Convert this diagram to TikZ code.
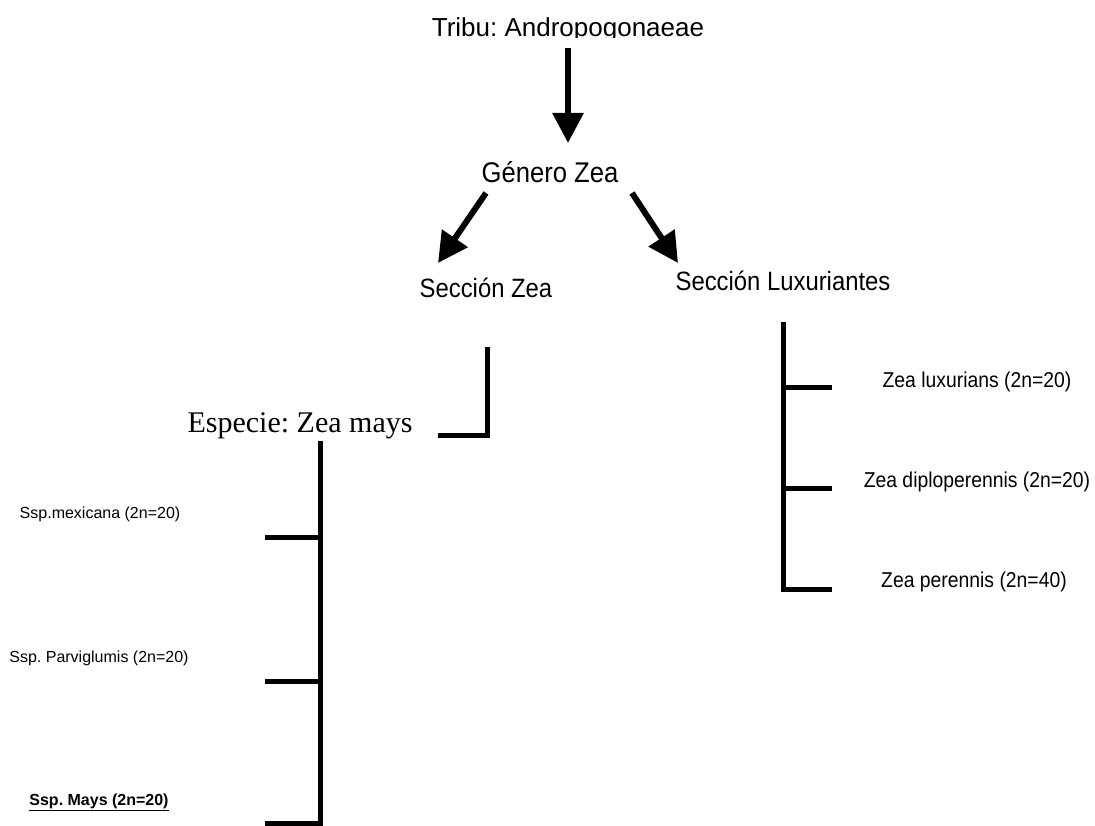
\documentclass[tikz,border=0pt]{standalone}
\usepackage{fontspec}
\setmainfont{Liberation Sans}
\newfontfamily\estrecha[FakeStretch=0.9]{Liberation Sans}
\newfontfamily\romana{Liberation Serif}
\usetikzlibrary{arrows.meta}
\def\flecha{\draw[line width=6pt,-{Triangle[width=30pt,length=30pt]}]}
\def\rama{\draw[line width=5pt]}
\def\tam#1{\fontsize{#1}{#1}\selectfont}
\frenchspacing

\begin{document}
\begin{tikzpicture}[x=1pt,y=-1pt,every node/.style={anchor=base,inner sep=0pt}]
                \useasboundingbox (0,0) rectangle (1095,826);
                \begin{scope}
                  \clip (0,0) rectangle (1095,38);
                  \node[font=\tam{26}] (tribu) at (568,37) {Tribu: Andropogonaeae};
                \end{scope}
                \node[font=\estrecha\tam{28.5}] (genero) at (550,183) {Género Zea};
                \node[font=\estrecha\tam{26.5}] (seczea) at (486,298) {Sección Zea};
                \node[font=\estrecha\tam{26.5}] (seclux) at (783,291) {Sección Luxuriantes};
                \node[font=\romana\tam{30}] (especie) at (300,432) {Especie: Zea mays};
                % subespecies
                \node[font=\tam{16}] (mexicana) at (100,518) {Ssp.mexicana (2n=20)};
                \node[font=\tam{16}] (parvi) at (99,662) {Ssp. Parviglumis (2n=20)};
                \node[font=\bfseries\tam{16}] (mays) at (99,805) {\underline{Ssp. Mays (2n=20)}};
                % luxuriantes
                \node[font=\estrecha\tam{21.5}] (luxu) at (977,387) {Zea luxurians (2n=20)};
                \node[font=\estrecha\tam{21.5}] (diplo) at (977,487) {Zea diploperennis (2n=20)};
                \node[font=\estrecha\tam{21.5}] (peren) at (974,587) {Zea perennis (2n=40)};
                % flechas
                \coordinate (t1) at (568,48);  \coordinate (t2) at (568,143);
                \coordinate (g1) at (486,193); \coordinate (g2) at (438,263);
                \coordinate (g3) at (632,193); \coordinate (g4) at (678,263);
                \flecha (t1) -- (t2);
                \flecha (g1) -- (g2);
                \flecha (g3) -- (g4);
                % ramas
                \coordinate (z1) at (487,347); \coordinate (z2) at (487,435); \coordinate (z3) at (438,435);
                \rama (z1) -- (z2) -- (z3);
                \coordinate (m0) at (320,441); \coordinate (m1) at (320,537);
                \coordinate (m2) at (320,681); \coordinate (m3) at (320,823);
                \coordinate (mx) at (265,537); \coordinate (pv) at (265,681); \coordinate (my) at (265,823);
                \rama (m0) -- (m3) -- (my);
                \rama (m1) -- (mx);
                \rama (m2) -- (pv);
                \coordinate (l0) at (783,322); \coordinate (l1) at (783,387);
                \coordinate (l2) at (783,488); \coordinate (l3) at (783,589);
                \coordinate (lx) at (832,387); \coordinate (dp) at (832,488); \coordinate (pr) at (832,589);
                \rama (l0) -- (l3) -- (pr);
                \rama (l1) -- (lx);
                \rama (l2) -- (dp);
            \end{tikzpicture}
\end{document}
